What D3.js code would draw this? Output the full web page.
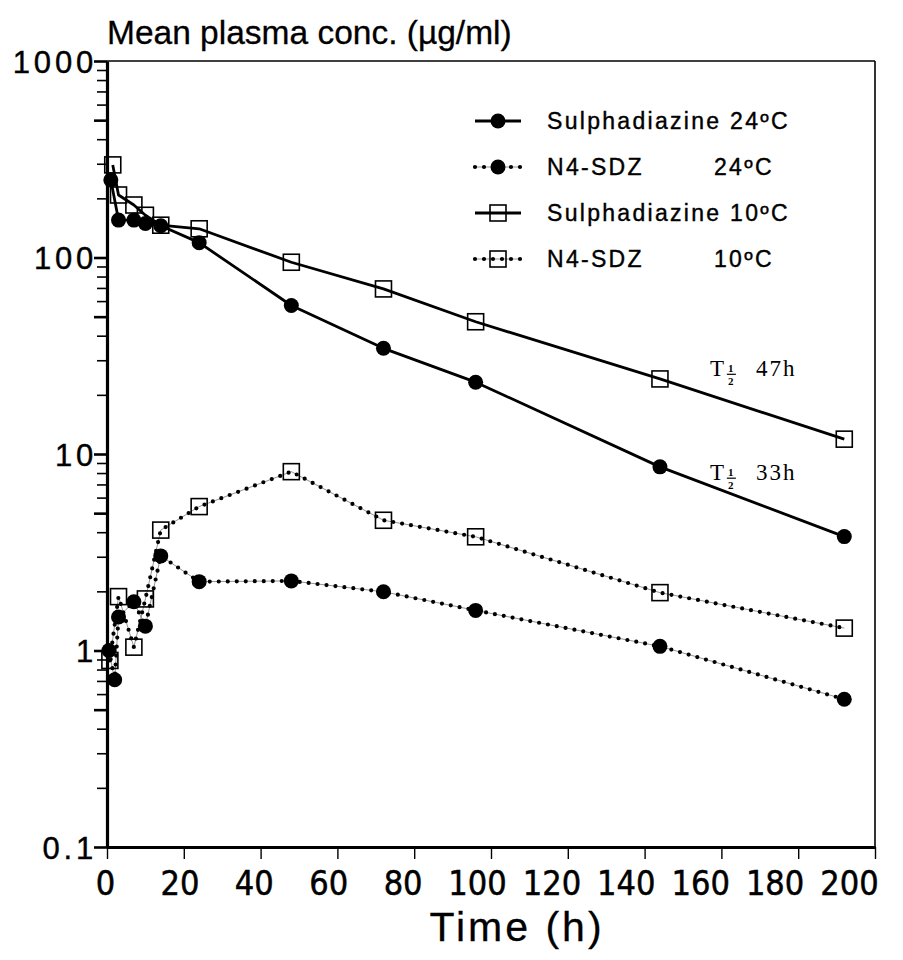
<!DOCTYPE html>
<html>
<head>
<meta charset="utf-8">
<script src="https://cdn.jsdelivr.net/npm/d3@7"></script>
<style>
  body { margin: 0; background: #fff; }
  svg { display: block; }
</style>
</head>
<body>
<div id="chart"></div>
<script>
// values (time in h, concentration in ug/ml)
const SDZ24_TIME = [1, 3, 7, 10, 14, 24, 48, 72, 96, 144, 192]
const SDZ24_CONC = [248, 155, 155, 149, 145, 119, 57, 34.5, 23.2, 8.6, 3.8]

const N4_24_TIME = [0.5, 2, 3, 7, 10, 14, 24, 48, 72, 96, 144, 192]
const N4_24_CONC = [1.0, 0.71, 1.48, 1.77, 1.33, 3.03, 2.24, 2.26, 1.99, 1.6, 1.05, 0.565]

const SDZ10_TIME = [1.5, 3, 7, 10, 14, 24, 48, 72, 96, 144, 192]
const SDZ10_CONC = [296, 208, 185, 164, 146, 140, 94.6, 69.2, 47.1, 24.1, 11.9]

const N4_10_TIME = [0.75, 3, 7, 10, 14, 24, 48, 72, 96, 144, 192]
const N4_10_CONC = [0.89, 1.88, 1.04, 1.83, 4.1, 5.4, 8.13, 4.6, 3.79, 1.97, 1.3]

const X_TICKS = [0, 20, 40, 60, 80, 100, 120, 140, 160, 180, 200]
const Y_LABELS = [0.1, 1, 10, 100, 1000]
const HALF_LIVES = ['47h', '33h']

const SERIES = [
  { name: 'Sulphadiazine 24ºC', temp: null, time: SDZ24_TIME, conc: SDZ24_CONC, marker: 'circle', dotted: false },
  { name: 'N4-SDZ', temp: '24ºC', time: N4_24_TIME, conc: N4_24_CONC, marker: 'circle', dotted: true },
  { name: 'Sulphadiazine 10ºC', temp: null, time: SDZ10_TIME, conc: SDZ10_CONC, marker: 'square', dotted: false },
  { name: 'N4-SDZ', temp: '10ºC', time: N4_10_TIME, conc: N4_10_CONC, marker: 'square', dotted: true },
]

const WIDTH = 903
const HEIGHT = 960
const SANS = '"Liberation Sans", Arial, sans-serif'
const NARROW = '"Liberation Sans Narrow", "DejaVu Sans Condensed", sans-serif'
const SERIF = '"Liberation Serif", "Times New Roman", serif'

const svg = d3.select('#chart').append('svg')
  .attr('width', WIDTH)
  .attr('height', HEIGHT)

const x = d3.scaleLinear().domain([0, 200]).range([107, 875])
// the printed numbers under the axis don't sit exactly on the ticks in the original
const xLabel = d3.scaleLinear().domain([0, 200]).range([105, 849])
const y = d3.scaleLog().domain([0.1, 1000]).range([847, 61])

const isMajor = d => {
  const lead = Math.round(d / Math.pow(10, Math.floor(Math.log10(d) + 1e-9)))
  return lead === 1 || lead === 5
}

// frame (top + right are thin)
svg.append('line')
  .attr('x1', x(0)).attr('x2', x(200))
  .attr('y1', y(1000)).attr('y2', y(1000))
  .attr('stroke', '#000').attr('stroke-width', 1.6)
svg.append('line')
  .attr('x1', x(200)).attr('x2', x(200))
  .attr('y1', y(1000)).attr('y2', y(0.1))
  .attr('stroke', '#000').attr('stroke-width', 1.6)

// y axis with minor ticks
const yAxis = svg.append('g')
  .attr('transform', `translate(${x(0)},0)`)
  .call(d3.axisLeft(y).tickValues(y.ticks()).tickSize(10).tickSizeOuter(0).tickFormat(''))
yAxis.select('.domain').attr('stroke-width', 3.2)
yAxis.selectAll('.tick line')
  .attr('x2', d => isMajor(d) ? -13 : -10)
  .attr('stroke-width', d => isMajor(d) ? 2.6 : 1.6)

const yLabels = svg.append('g')
  .attr('transform', `translate(${x(0)},0)`)
  .call(d3.axisLeft(y).tickValues(Y_LABELS).tickSize(0).tickPadding(10).tickFormat(d3.format('~g')))
yLabels.select('.domain').remove()
yLabels.selectAll('text')
  .attr('font-family', SANS)
  .attr('font-size', 31)
  .attr('letter-spacing', 3.8)
  .attr('dy', '0.36em')
  .attr('fill', '#000')
  .attr('stroke', '#000')
  .attr('stroke-width', 0.4)

// x axis
const xAxis = svg.append('g')
  .attr('transform', `translate(0,${y(0.1)})`)
  .call(d3.axisBottom(x).tickValues(X_TICKS).tickSize(12).tickSizeOuter(0).tickFormat(''))
xAxis.select('.domain').attr('stroke-width', 3.2)
xAxis.selectAll('.tick line').attr('stroke-width', 1.4)

const xLabels = svg.append('g')
  .attr('transform', `translate(0,${y(0.1)})`)
  .call(d3.axisBottom(xLabel).tickValues(X_TICKS).tickSize(0).tickPadding(24))
xLabels.select('.domain').remove()
xLabels.selectAll('text')
  .attr('font-family', NARROW)
  .attr('font-size', 34)
  .attr('fill', '#000')
  .attr('stroke', '#000')
  .attr('stroke-width', 0.5)

// titles
svg.append('text')
  .attr('x', x(0))
  .attr('y', 44)
  .attr('font-family', SANS)
  .attr('font-size', 33.5)
  .attr('stroke', '#000')
  .attr('stroke-width', 0.3)
  .text('Mean plasma conc. (µg/ml)')

svg.append('text')
  .attr('x', 517)
  .attr('y', 941)
  .attr('text-anchor', 'middle')
  .attr('font-family', SANS)
  .attr('font-size', 41)
  .attr('letter-spacing', 3)
  .attr('stroke', '#000')
  .attr('stroke-width', 0.3)
  .text('Time (h)')

// lines
const line = d3.line()
  .x(d => x(d[0]))
  .y(d => y(d[1]))

const drawLine = (g, pts, dotted) => {
  if (dotted) {
    g.append('path').attr('d', line(pts))
      .attr('fill', 'none').attr('stroke', '#666').attr('stroke-width', 0.7)
    g.append('path').attr('d', line(pts))
      .attr('fill', 'none').attr('stroke', '#000').attr('stroke-width', 4.2)
      .attr('stroke-linecap', 'round').attr('stroke-dasharray', '0 9')
  } else {
    g.append('path').attr('d', line(pts))
      .attr('fill', 'none').attr('stroke', '#000').attr('stroke-width', 2.8)
      .attr('stroke-linejoin', 'round')
  }
}

const drawMarker = (g, marker, cx, cy) => {
  if (marker === 'circle') {
    g.append('circle').attr('cx', cx).attr('cy', cy).attr('r', 7.5).attr('fill', '#000')
  } else {
    g.append('rect')
      .attr('x', cx - 8).attr('y', cy - 8)
      .attr('width', 16).attr('height', 16)
      .attr('fill', 'none').attr('stroke', '#000').attr('stroke-width', 1.6)
  }
}

const plot = svg.append('g')
SERIES.forEach(s => {
  const pts = s.time.map((t, i) => [t, s.conc[i]])
  drawLine(plot, pts, s.dotted)
})
SERIES.forEach(s => {
  s.time.forEach((t, i) => drawMarker(plot, s.marker, x(t), y(s.conc[i])))
})

// legend
const LEGEND_X = 475
const LEGEND_Y = 121
const LEGEND_STEP = 46
const legend = svg.append('g')
SERIES.forEach((s, i) => {
  const ly = LEGEND_Y + i * LEGEND_STEP
  const row = legend.append('g')
  drawLine(row, [[0, 0], [1, 0]].map(p => [x.invert(LEGEND_X + p[0] * 46), y.invert(ly)]), s.dotted)
  drawMarker(row, s.marker, LEGEND_X + 23, ly)
  const label = [[s.name, LEGEND_X + 72]]
  if (s.temp) label.push([s.temp, LEGEND_X + 239])
  label.forEach(([txt, lx]) => {
    row.append('text')
      .attr('x', lx)
      .attr('y', ly)
      .attr('dy', '0.36em')
      .attr('font-family', SANS)
      .attr('font-size', 23)
      .attr('letter-spacing', 2.3)
      .attr('stroke', '#000')
      .attr('stroke-width', 0.4)
      .text(txt)
  })
})

// half-life notes
const HALF_LIFE_POS = [[157, 25], [157, 7.4]]
HALF_LIVES.forEach((txt, i) => {
  const hx = x(HALF_LIFE_POS[i][0])
  const hy = y(HALF_LIFE_POS[i][1])
  const g = svg.append('g').attr('transform', `translate(${hx},${hy})`)
  g.append('text').attr('x', 0).attr('y', 0)
    .attr('font-family', SERIF).attr('font-size', 23).text('T')
  g.append('text').attr('x', 18).attr('y', -4)
    .attr('font-family', SERIF).attr('font-size', 11).attr('font-weight', 'bold').text('1')
  g.append('line').attr('x1', 17).attr('x2', 26).attr('y1', -1.5).attr('y2', -1.5)
    .attr('stroke', '#000').attr('stroke-width', 1.2)
  g.append('text').attr('x', 18).attr('y', 9)
    .attr('font-family', SERIF).attr('font-size', 11).attr('font-weight', 'bold').text('2')
  g.append('text').attr('x', 46).attr('y', 0)
    .attr('font-family', SERIF).attr('font-size', 23).attr('letter-spacing', 2).text(txt)
})
</script>
</body>
</html>
